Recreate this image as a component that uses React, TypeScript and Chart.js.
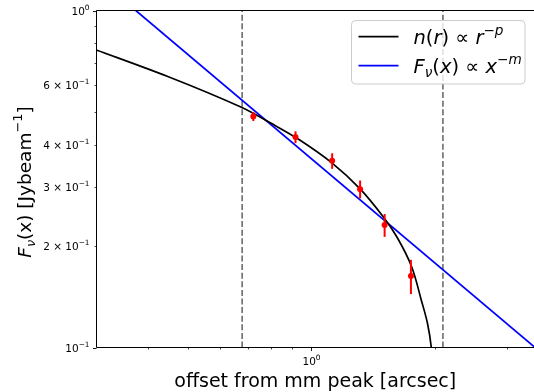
import React, { useEffect, useRef } from "react";
import { Chart, registerables } from "chart.js";

Chart.register(...registerables);

// axis ranges
const X_MIN = 0.3;
const X_MAX = 3.49;
const Y_MIN = 0.1;
const Y_MAX = 1.0;

// observed points with error bars
const obsX = [0.723, 0.916, 1.125, 1.316, 1.51, 1.75];
const obsY = [0.485, 0.421, 0.358, 0.295, 0.231, 0.163];
const obsErr = [0.015, 0.017, 0.019, 0.018, 0.018, 0.019];

// model n(r) ∝ r^-p
const modelX = [0.29, 0.449, 0.672, 0.799, 0.936, 1.125, 1.316, 1.501, 1.623, 1.757, 1.855, 1.92, 1.962, 1.98];
const modelY = [0.775, 0.636, 0.518, 0.4626, 0.4134, 0.3525, 0.2956, 0.2435, 0.2113, 0.1737, 0.1382, 0.118, 0.1, 0.085];

// power law F ∝ x^-m
const powX = [0.374, 3.6];
const powY = [1.0, 0.0974];

// inner / outer radii (dashed lines)
const radii = [0.679, 2.094];

// ticks
const xMajorTicks = [1];
const xMinorTicks = [0.4, 0.5, 0.6, 0.7, 0.8, 0.9, 2, 3];
const yMajorTicks = [0.1, 1];
const yMajorExp = ["−1", "0"];
const yMinorTicks = [0.2, 0.3, 0.4, 0.5, 0.6, 0.7, 0.8, 0.9];
const yMinorLabels = ["2", "3", "4", "", "6", "", "", ""];

const FAMILY = "'DejaVu Sans', sans-serif";

type Part = { t: string; it?: boolean; sup?: boolean; sub?: boolean };

function partFont(p: Part, size: number) {
  const fs = p.sup || p.sub ? size * 0.7 : size;
  return `${p.it ? "italic " : ""}${fs}px ${FAMILY}`;
}

function mathWidth(ctx: CanvasRenderingContext2D, parts: Part[], size: number) {
  let w = 0;
  for (const p of parts) {
    ctx.font = partFont(p, size);
    w += ctx.measureText(p.t).width;
  }
  return w;
}

function drawMath(
  ctx: CanvasRenderingContext2D,
  parts: Part[],
  x: number,
  y: number,
  size: number,
  align: "left" | "right" | "center"
) {
  const w = mathWidth(ctx, parts, size);
  let cx = align === "left" ? x : align === "right" ? x - w : x - w / 2;
  ctx.textAlign = "left";
  ctx.textBaseline = "alphabetic";
  for (const p of parts) {
    ctx.font = partFont(p, size);
    const dy = p.sup ? -size * 0.46 : p.sub ? size * 0.22 : 0;
    ctx.fillText(p.t, cx, y + dy);
    cx += ctx.measureText(p.t).width;
  }
}

const overlay = {
  id: "overlay",
  afterDatasetsDraw(chart: any) {
    const ctx: CanvasRenderingContext2D = chart.ctx;
    const xs = chart.scales.x;
    const ys = chart.scales.y;
    ctx.save();
    ctx.strokeStyle = "#ff0000";
    ctx.lineWidth = 2;
    for (let i = 0; i < obsX.length; i++) {
      const px = xs.getPixelForValue(obsX[i]);
      const y1 = ys.getPixelForValue(obsY[i] + obsErr[i]);
      const y2 = ys.getPixelForValue(obsY[i] - obsErr[i]);
      ctx.beginPath();
      ctx.moveTo(px, y1);
      ctx.lineTo(px, y2);
      ctx.stroke();
    }
    ctx.restore();
  },
  afterDraw(chart: any) {
    const ctx: CanvasRenderingContext2D = chart.ctx;
    const xs = chart.scales.x;
    const ys = chart.scales.y;
    const a = chart.chartArea;
    ctx.save();
    ctx.fillStyle = "#000";
    ctx.strokeStyle = "#000";

    // spines (right one is cropped out of the picture)
    ctx.lineWidth = 1;
    ctx.beginPath();
    ctx.moveTo(a.left, a.bottom);
    ctx.lineTo(a.left, a.top);
    ctx.lineTo(a.right + 2, a.top);
    ctx.moveTo(a.left, a.bottom);
    ctx.lineTo(a.right + 2, a.bottom);
    ctx.stroke();

    // x ticks
    ctx.lineWidth = 0.9;
    for (const v of xMajorTicks) {
      const px = Math.round(xs.getPixelForValue(v)) + 0.5;
      ctx.beginPath();
      ctx.moveTo(px, a.bottom);
      ctx.lineTo(px, a.bottom + 3.5);
      ctx.stroke();
      drawMath(ctx, [{ t: "10" }, { t: "0", sup: true }], px, 365, 10.5, "center");
    }
    ctx.lineWidth = 0.7;
    for (const v of xMinorTicks) {
      const px = Math.round(xs.getPixelForValue(v)) + 0.5;
      ctx.beginPath();
      ctx.moveTo(px, a.bottom);
      ctx.lineTo(px, a.bottom + 2);
      ctx.stroke();
    }

    // y ticks
    ctx.lineWidth = 0.9;
    yMajorTicks.forEach((v, i) => {
      const py = Math.round(ys.getPixelForValue(v)) + 0.5;
      ctx.beginPath();
      ctx.moveTo(a.left, py);
      ctx.lineTo(a.left - 3.5, py);
      ctx.stroke();
      drawMath(ctx, [{ t: "10" }, { t: yMajorExp[i], sup: true }], a.left - 7, py + 3.8, 10.5, "right");
    });
    ctx.lineWidth = 0.7;
    yMinorTicks.forEach((v, i) => {
      const py = Math.round(ys.getPixelForValue(v)) + 0.5;
      ctx.beginPath();
      ctx.moveTo(a.left, py);
      ctx.lineTo(a.left - 2, py);
      ctx.stroke();
      if (yMinorLabels[i]) {
        drawMath(
          ctx,
          [{ t: yMinorLabels[i] + " × 10" }, { t: "−1", sup: true }],
          a.left - 7,
          py + 3.8,
          10.5,
          "right"
        );
      }
    });

    // x label
    drawMath(ctx, [{ t: "offset from mm peak [arcsec]" }], (a.left + a.right) / 2, 387, 19, "center");

    // y label
    ctx.save();
    ctx.translate(30.5, 182);
    ctx.rotate(-Math.PI / 2);
    drawMath(
      ctx,
      [
        { t: "F", it: true },
        { t: "ν", it: true, sub: true },
        { t: "(x) [Jybeam" },
        { t: "−1", sup: true },
        { t: "]" },
      ],
      0,
      0,
      18.5,
      "center"
    );
    ctx.restore();

    // legend
    const bx = 351.5, by = 20.5, bw = 173.5, bh = 63.5, r = 4;
    ctx.beginPath();
    ctx.moveTo(bx + r, by);
    ctx.lineTo(bx + bw - r, by);
    ctx.arcTo(bx + bw, by, bx + bw, by + r, r);
    ctx.lineTo(bx + bw, by + bh - r);
    ctx.arcTo(bx + bw, by + bh, bx + bw - r, by + bh, r);
    ctx.lineTo(bx + r, by + bh);
    ctx.arcTo(bx, by + bh, bx, by + bh - r, r);
    ctx.lineTo(bx, by + r);
    ctx.arcTo(bx, by, bx + r, by, r);
    ctx.closePath();
    ctx.fillStyle = "rgba(255,255,255,0.8)";
    ctx.fill();
    ctx.strokeStyle = "#cccccc";
    ctx.lineWidth = 1;
    ctx.stroke();

    ctx.lineWidth = 1.7;
    ctx.strokeStyle = "#000000";
    ctx.beginPath();
    ctx.moveTo(358.5, 36.7);
    ctx.lineTo(398.5, 36.7);
    ctx.stroke();
    ctx.strokeStyle = "#0000ff";
    ctx.beginPath();
    ctx.moveTo(358.5, 65.7);
    ctx.lineTo(398.5, 65.7);
    ctx.stroke();

    ctx.fillStyle = "#000";
    drawMath(
      ctx,
      [
        { t: "n", it: true },
        { t: "(" },
        { t: "r", it: true },
        { t: ")" },
        { t: " ∝ " },
        { t: "r", it: true },
        { t: "−", sup: true },
        { t: "p", it: true, sup: true },
      ],
      413.5,
      43.5,
      19.5,
      "left"
    );
    drawMath(
      ctx,
      [
        { t: "F", it: true },
        { t: "ν", it: true, sub: true },
        { t: "(" },
        { t: "x", it: true },
        { t: ")" },
        { t: " ∝ " },
        { t: "x", it: true },
        { t: "−", sup: true },
        { t: "m", it: true, sup: true },
      ],
      413.5,
      72.5,
      19.5,
      "left"
    );

    ctx.restore();
  },
};

export default function App() {
  const ref = useRef<HTMLCanvasElement>(null);
  useEffect(() => {
    if (!ref.current) return;
    const chart = new Chart(ref.current, {
      type: "line",
      data: {
        datasets: [
          {
            label: "obs",
            data: obsX.map((x, i) => ({ x, y: obsY[i] })),
            showLine: false,
            pointRadius: 3,
            pointBackgroundColor: "#ff0000",
            pointBorderWidth: 0,
            borderColor: "#ff0000",
          },
          {
            label: "n(r)",
            data: modelX.map((x, i) => ({ x, y: modelY[i] })),
            borderColor: "#000000",
            borderWidth: 1.7,
            pointRadius: 0,
            tension: 0.35,
            fill: false,
            clip: 0,
          },
          {
            label: "F(x)",
            data: powX.map((x, i) => ({ x, y: powY[i] })),
            borderColor: "#0000ff",
            borderWidth: 1.7,
            pointRadius: 0,
            fill: false,
            clip: 0,
          },
          ...radii.map((rv) => ({
            label: "r" + rv,
            data: [
              { x: rv, y: Y_MIN },
              { x: rv, y: Y_MAX },
            ],
            borderColor: "rgba(0,0,0,0.62)",
            borderWidth: 1.5,
            borderDash: [6, 2.6],
            pointRadius: 0,
            fill: false,
            clip: 0,
          })),
        ] as any,
      },
      options: {
        animation: false,
        responsive: false,
        devicePixelRatio: 1,
        layout: { autoPadding: false, padding: { left: 96.5, top: 10.5, right: 0, bottom: 392 - 347.5 } },
        scales: {
          x: { type: "logarithmic", min: X_MIN, max: X_MAX, display: false },
          y: { type: "logarithmic", min: Y_MIN, max: Y_MAX, display: false },
        },
        plugins: { legend: { display: false }, tooltip: { enabled: false } },
      } as any,
      plugins: [overlay],
    });
    return () => chart.destroy();
  }, []);
  return (
    <div style={{ position: "absolute", left: 0, top: 0, width: 534, height: 392, background: "#fff" }}>
      <canvas ref={ref} width={534} height={392} style={{ display: "block" }} />
    </div>
  );
}
